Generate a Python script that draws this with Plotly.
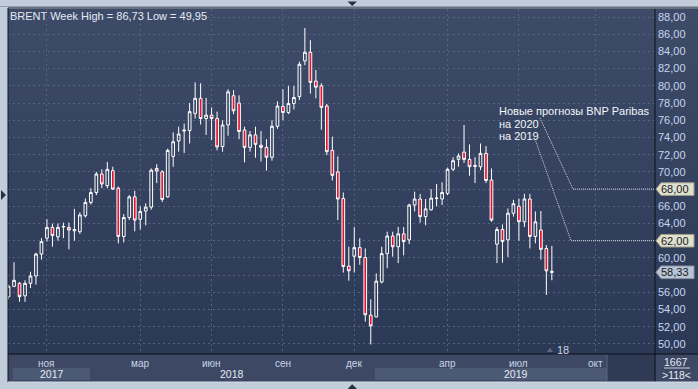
import plotly.graph_objects as go
import pandas as pd
from datetime import datetime, timedelta

# ---------------- data ----------------
week_start = "2017-09-18"
opens = [55.5, 56.7, 57.05, 55.6, 57.05, 57.9, 60.45, 62.3, 63.55, 62.45,
         63.6, 63.55, 63.15, 63.05, 64.9, 66.45, 67.6, 69.75, 68.4, 70.15,
         68.1, 62.5, 64.7, 67.1, 64.5, 65.45, 65.9, 70.4, 70.0, 67.1,
         71.8, 73.6, 74.75, 74.8, 76.8, 78.55, 76.2, 76.6, 76.2, 72.95,
         75.45, 78.85, 78.0, 74.87, 72.85, 74.3, 73.1, 72.85, 71.7, 75.3,
         77.6, 76.9, 77.95, 78.75, 82.9, 83.9, 80.55, 80.0, 77.65, 72.5,
         70.0, 66.9, 59.05, 60.2, 61.2, 60.05, 53.35, 53.15, 57.2, 60.5,
         62.55, 61.3, 62.8, 62.1, 66.15, 66.85, 64.8, 65.6, 66.9, 66.85,
         67.5, 70.3, 71.45, 72.3, 71.45, 70.75, 70.6, 72.15, 69.05, 61.6,
         63.3, 62.1, 65.2, 66.0, 64.2, 66.85, 62.5, 63.25, 61.1, 58.45]
highs = [56.9, 59.5, 57.2, 57.4, 58.4, 60.6, 62.3, 64.5, 64.0, 64.0,
         64.1, 64.1, 65.7, 65.3, 66.9, 68.1, 70.0, 70.3, 71.15, 70.6,
         68.3, 65.1, 67.3, 67.8, 66.0, 66.35, 70.4, 70.9, 70.2, 72.7,
         74.6, 75.25, 75.6, 78.0, 80.4, 80.3, 78.6, 77.5, 77.0, 76.0,
         79.6, 79.5, 78.9, 75.25, 74.75, 75.25, 74.75, 73.8, 76.0, 78.2,
         79.6, 80.0, 80.0, 82.8, 86.73, 85.3, 81.85, 80.3, 77.9, 74.1,
         71.8, 67.6, 61.3, 63.6, 62.3, 61.1, 55.2, 58.2, 61.3, 63.05,
         63.05, 63.6, 63.6, 66.3, 67.7, 67.45, 66.85, 68.0, 68.6, 68.8,
         70.5, 71.7, 72.15, 75.45, 73.2, 71.7, 73.3, 73.0, 70.4, 63.6,
         63.9, 65.75, 66.75, 66.9, 67.45, 67.45, 65.4, 65.45, 61.5, 61.4]
lows = [55.2, 56.6, 54.9, 54.9, 56.5, 56.9, 59.8, 61.9, 61.3, 62.0,
        62.3, 61.0, 62.0, 62.8, 64.7, 66.2, 67.3, 68.1, 68.1, 67.9,
        61.7, 61.8, 64.4, 63.1, 63.3, 63.8, 65.6, 68.7, 66.5, 67.0,
        70.6, 72.35, 72.2, 73.3, 76.2, 75.5, 74.3, 73.7, 72.5, 72.35,
        74.2, 76.7, 73.8, 71.1, 72.35, 71.65, 71.2, 70.15, 71.3, 75.0,
        76.0, 76.7, 77.25, 78.35, 82.4, 79.1, 78.55, 74.9, 71.95, 69.0,
        64.4, 58.3, 57.35, 58.3, 59.2, 52.6, 49.95, 53.1, 57.05, 58.8,
        60.15, 59.4, 60.3, 61.6, 65.4, 64.1, 63.8, 65.5, 66.0, 66.15,
        67.3, 70.1, 70.6, 71.05, 69.55, 68.7, 70.2, 68.7, 64.2, 59.4,
        59.45, 60.1, 64.8, 62.0, 63.6, 61.1, 61.7, 59.8, 55.7, 57.4]
closes = [56.7, 57.4, 55.5, 57.05, 57.9, 60.45, 61.9, 63.55, 62.6, 63.55,
          63.65, 63.25, 63.3, 65.0, 66.45, 67.6, 69.75, 68.6, 70.3, 68.0,
          62.5, 64.7, 67.1, 64.4, 65.4, 65.9, 70.2, 70.1, 66.8, 72.5,
          73.5, 74.4, 74.85, 77.0, 78.55, 76.2, 76.6, 76.2, 72.9, 75.45,
          79.3, 77.1, 74.7, 72.85, 74.3, 73.2, 72.85, 71.7, 75.3, 77.65,
          76.9, 77.95, 78.65, 82.5, 83.9, 80.4, 79.85, 77.5, 72.35, 69.6,
          66.85, 59.0, 58.5, 61.2, 60.05, 53.4, 52.1, 57.3, 60.5, 62.55,
          61.3, 62.8, 61.9, 66.15, 66.85, 64.8, 65.7, 66.95, 66.95, 67.6,
          70.3, 71.3, 71.85, 71.45, 70.6, 70.65, 72.15, 69.0, 64.4, 63.3,
          61.9, 65.2, 66.3, 64.2, 66.85, 62.5, 64.2, 61.0, 58.5, 58.33]
dates = pd.date_range(week_start, periods=len(opens), freq="7D")

y_ticks = list(range(50, 90, 2))
month_dates = ["2017-11-06", "2018-03-05", "2018-06-04", "2018-09-03",
               "2018-12-03", "2019-04-01", "2019-07-01", "2019-10-07"]
month_labels = ["ноя", "мар", "июн", "сен", "дек", "апр", "июл", "окт"]
year_labels = ["2017", "2018", "2019"]

title_text = "BRENT Week High = 86,73 Low = 49,95"
forecast_title = "Новые прогнозы BNP Paribas"
forecast_labels = ["на 2020", "на 2019"]
forecast_values = [68.00, 62.00]
last_price = 58.33
counter_top, counter_bottom = "1667", ">118<"
bar_count_label = "18"

# tick labels hidden behind the price tags
tag_values = forecast_values + [last_price]
y_ticktext = ["" if any(abs(v - t) < 1.0 for t in tag_values) else f"{v},00"
              for v in y_ticks]

# ---------------- geometry helpers (layout only) ----------------
W, H = 698, 389
L, R, T, B = 8, 655, 9, 354
PX_PER_DAY = 0.784
ANCHOR_DATE, ANCHOR_PX = datetime(2018, 2, 5), 118.3
PX_PER_UNIT, TOP_VAL, TOP_PY = 8.605, 88.0, 17.0


def fx(px):
    return (px - L) / (R - L)


def fy(py):
    return (B - py) / (B - T)


def dx(px):
    return ANCHOR_DATE + timedelta(days=(px - ANCHOR_PX) / PX_PER_DAY)


def vy(py):
    return TOP_VAL - (py - TOP_PY) / PX_PER_UNIT


FRAME = "#c2cddc"
shapes = []


def rect(x0, y0, x1, y1, color, layer="below"):
    shapes.append(dict(type="rect", xref="paper", yref="paper",
                       x0=fx(x0), x1=fx(x1), y0=fy(y1), y1=fy(y0),
                       fillcolor=color, line=dict(width=0), layer=layer))


def hline(x0, x1, y, color, layer="above"):
    shapes.append(dict(type="line", xref="paper", yref="paper",
                       x0=fx(x0), x1=fx(x1), y0=fy(y), y1=fy(y),
                       line=dict(color=color, width=1), layer=layer))


def vline(x, y0, y1, color, layer="above"):
    shapes.append(dict(type="line", xref="paper", yref="paper",
                       x0=fx(x), x1=fx(x), y0=fy(y0), y1=fy(y1),
                       line=dict(color=color, width=1), layer=layer))


def tri(points, color):
    p = "M " + " L ".join(f"{fx(a)},{fy(b)}" for a, b in points) + " Z"
    shapes.append(dict(type="path", xref="paper", yref="paper", path=p,
                       fillcolor=color, line=dict(width=0), layer="above"))


# gradient background for plot + right scale panel
top_c, bot_c = (62, 75, 104), (44, 57, 86)
N = 30
for i in range(N):
    t = i / (N - 1)
    c = tuple(round(top_c[k] + (bot_c[k] - top_c[k]) * t) for k in range(3))
    y0 = T + (B - T) * i / N
    y1 = T + (B - T) * (i + 1) / N + 0.6
    rect(L, y0, W + 2, y1, "rgb(%d,%d,%d)" % c)

# x-axis band
rect(L, B, W + 2, 382, "#3d4964")
rect(13, 368, 90, 380, "#4c5975")
rect(375, 368, 607, 380, "#4c5975")
rect(607, B, R, 382, "#2f3a54")
vline(607, B, 381, "#5a6680", layer="below")
# frame lines
hline(0, W + 2, 6.5, "#8f9bb0")
hline(L, W + 2, 8, "#11151f")
vline(L, 8, 382, "#11151f")
hline(L, W + 2, B, "#0c0f16")
vline(R, T, 382, "#0c0f16")
hline(L, W + 2, 382, "#d3dbe6")
hline(664, 690, 368, "#c8d2e2")
# frame triangles
tri([(347.5, 1.5), (357, 1.5), (352.2, 6)], "#263044")
tri([(1, 190), (1, 200), (6, 195)], "#263044")
tri([(347.5, 389), (357, 389), (352.2, 384.2)], "#263044")
tri([(547, 352), (553, 352), (550, 347.5)], "#5d6984")

# forecast dotted connector lines
text_ends = [(540, 118), (535, 139)]
corners = [573, 571]
for (sx, sy), cx, val in zip(text_ends, corners, forecast_values):
    shapes.append(dict(type="line", xref="x", yref="y",
                       x0=dx(sx), y0=vy(sy), x1=dx(cx), y1=val,
                       line=dict(color="#d5dbe6", width=1, dash="1px,1px"),
                       layer="above"))
    shapes.append(dict(type="line", xref="x", yref="y",
                       x0=dx(cx), y0=val, x1=dx(R), y1=val,
                       line=dict(color="#d5dbe6", width=1, dash="1px,1px"),
                       layer="above"))

# price tags on the scale
h = 6.3 / PX_PER_UNIT


def tag(val, fill, border):
    p = (f"M {fx(656)},{val} L {fx(661)},{val + h} L {fx(694)},{val + h} "
         f"L {fx(694)},{val - h} L {fx(661)},{val - h} Z")
    shapes.append(dict(type="path", xref="paper", yref="y", path=p,
                       fillcolor=fill, line=dict(color=border, width=1),
                       layer="above"))


for v in forecast_values:
    tag(v, "#e0e0cc", "#9d9d8a")
tag(last_price, "#bac3d1", "#8a94a6")

# ---------------- annotations ----------------
annotations = []
FONT = "Arial, Liberation Sans, sans-serif"


def ann(text, x, y, size, color, xanchor="left", xref="paper", yref="paper"):
    annotations.append(dict(text=text, x=x, y=y, xref=xref, yref=yref,
                            xanchor=xanchor, yanchor="middle", showarrow=False,
                            borderpad=0,
                            font=dict(family=FONT, size=size, color=color)))


ann(title_text, fx(9), fy(15.5), 11, "#e3eaf4")
for d, lab in zip(month_dates, month_labels):
    ann(lab, d, fy(363.5), 10, "#c9d5ea", xanchor="center", xref="x")
for px, lab in zip([52, 232, 516], year_labels):
    ann(lab, fx(px), fy(374), 10.5, "#e6ecf5", xanchor="center")
ann(forecast_title, fx(497.5), fy(111), 11, "#f2f5fa")
ann(forecast_labels[0], fx(497.5), fy(123.5), 11, "#f2f5fa")
ann(forecast_labels[1], fx(497.5), fy(136), 11, "#f2f5fa")
for v in tag_values:
    annotations.append(dict(text=f"{v:.2f}".replace(".", ","), x=fx(660), y=v,
                            xref="paper", yref="y", xanchor="left",
                            yanchor="middle", showarrow=False, borderpad=0,
                            font=dict(family=FONT, size=11, color="#141b2b")))
ann(bar_count_label, fx(556), fy(349.5), 11, "#c9d5ea")
ann(counter_top, fx(676.5), fy(362), 10.5, "#e3eaf4", xanchor="center")
ann(counter_bottom, fx(676.5), fy(374.5), 10.5, "#e3eaf4", xanchor="center")

# ---------------- figure ----------------
fig = go.Figure(go.Candlestick(
    x=dates, open=opens, high=highs, low=lows, close=closes,
    increasing=dict(line=dict(color="#ffffff", width=1), fillcolor="rgba(0,0,0,0)"),
    decreasing=dict(line=dict(color="#ffffff", width=1), fillcolor="#e3142f"),
    whiskerwidth=0, hoverinfo="skip", showlegend=False))

fig.update_layout(
    width=W, height=H,
    margin=dict(l=L, r=W - R, t=T, b=H - B, pad=0),
    paper_bgcolor=FRAME, plot_bgcolor="#36425f",
    font=dict(family=FONT),
    shapes=shapes, annotations=annotations,
    showlegend=False,
    xaxis=dict(type="date", range=[dx(L), dx(R)], rangeslider=dict(visible=False),
               tickvals=month_dates, showticklabels=False, ticks="",
               showgrid=True, gridcolor="#56637e", griddash="2px,3px", gridwidth=1,
               zeroline=False, showline=False, fixedrange=True),
    yaxis=dict(side="right", range=[vy(B), vy(T)], tickvals=y_ticks,
               ticktext=y_ticktext, ticks="", ticklabelstandoff=2,
               tickfont=dict(family=FONT, size=11, color="#c6d6f0"),
               showgrid=True, gridcolor="#56637e", griddash="2px,3px", gridwidth=1,
               zeroline=False, showline=False, fixedrange=True, automargin=False),
)

fig.write_html("out.html", config={"displayModeBar": False},
               post_script="document.body.style.margin='0px';"
                           "document.body.style.overflow='hidden';")
